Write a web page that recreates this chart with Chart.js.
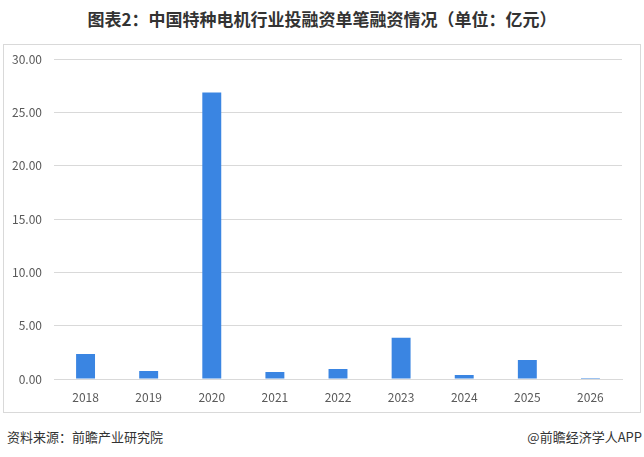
<!DOCTYPE html>
<html>
<head>
<meta charset="utf-8">
<script src="https://cdn.jsdelivr.net/npm/chart.js@4"></script>
<style>
  body { margin: 0; background: #fff; width: 644px; height: 457px; position: relative; overflow: hidden;
         font-family: "Noto Sans CJK SC", "Noto Sans", sans-serif; }
  #title { position: absolute; left: 0; top: 6px; width: 644px; text-align: center;
           font-size: 17px; font-weight: bold; color: #333; }
  #box { position: absolute; left: 3px; top: 44px; width: 636px; height: 367px; border: 1px solid #d9d9d9; }
  #chartWrap { position: absolute; left: 0; top: -5px; width: 636px; height: 372px; }
  #src { position: absolute; left: 7px; top: 427px; font-size: 13px; color: #333; }
  #app { position: absolute; right: 2px; top: 427px; font-size: 13px; color: #333; }
</style>
</head>
<body>
<div id="title">图表2：中国特种电机行业投融资单笔融资情况（单位：亿元）</div>
<div id="box"><div id="chartWrap"><canvas id="chart"></canvas></div></div>
<div id="src">资料来源：前瞻产业研究院</div>
<div id="app">@前瞻经济学人APP</div>
<script>
// 年份和单笔融资金额（亿元）
const years = ['2018', '2019', '2020', '2021', '2022', '2023', '2024', '2025', '2026'];
const amounts = [2.34, 0.75, 26.87, 0.66, 0.94, 3.87, 0.38, 1.78, 0.1];
const yTicks = [0, 5, 10, 15, 20, 25, 30];

document.addEventListener('DOMContentLoaded', function() {
    const ctx = document.getElementById('chart').getContext('2d');
    new Chart(ctx, {
        type: 'bar',
        data: {
            labels: years,
            datasets: [{
                data: amounts,
                backgroundColor: '#3a85e2',
                barPercentage: 0.3,
                categoryPercentage: 1
            }]
        },
        options: {
            responsive: true,
            maintainAspectRatio: false,
            animation: false,
            layout: { padding: { top: 9, right: 18, left: 0, bottom: 0 } },
            plugins: { legend: { display: false }, tooltip: { enabled: false } },
            scales: {
                x: {
                    grid: { display: false },
                    border: { color: '#d9d9d9' },
                    ticks: { color: '#595959', font: { size: 12, family: 'Noto Sans CJK SC' }, padding: 3 },
                    afterFit: function(s) { s.height = 33; }
                },
                y: {
                    min: 0,
                    max: 30,
                    grid: { color: '#d9d9d9', drawTicks: false },
                    border: { display: false },
                    afterBuildTicks: function(s) { s.ticks = yTicks.map(v => ({ value: v })); },
                    ticks: {
                        color: '#595959',
                        font: { size: 12, family: 'Noto Sans CJK SC' },
                        padding: 12,
                        callback: v => v.toFixed(2)
                    },
                    afterFit: function(s) { s.width = 50; }
                }
            }
        }
    });
});
</script>
</body>
</html>
